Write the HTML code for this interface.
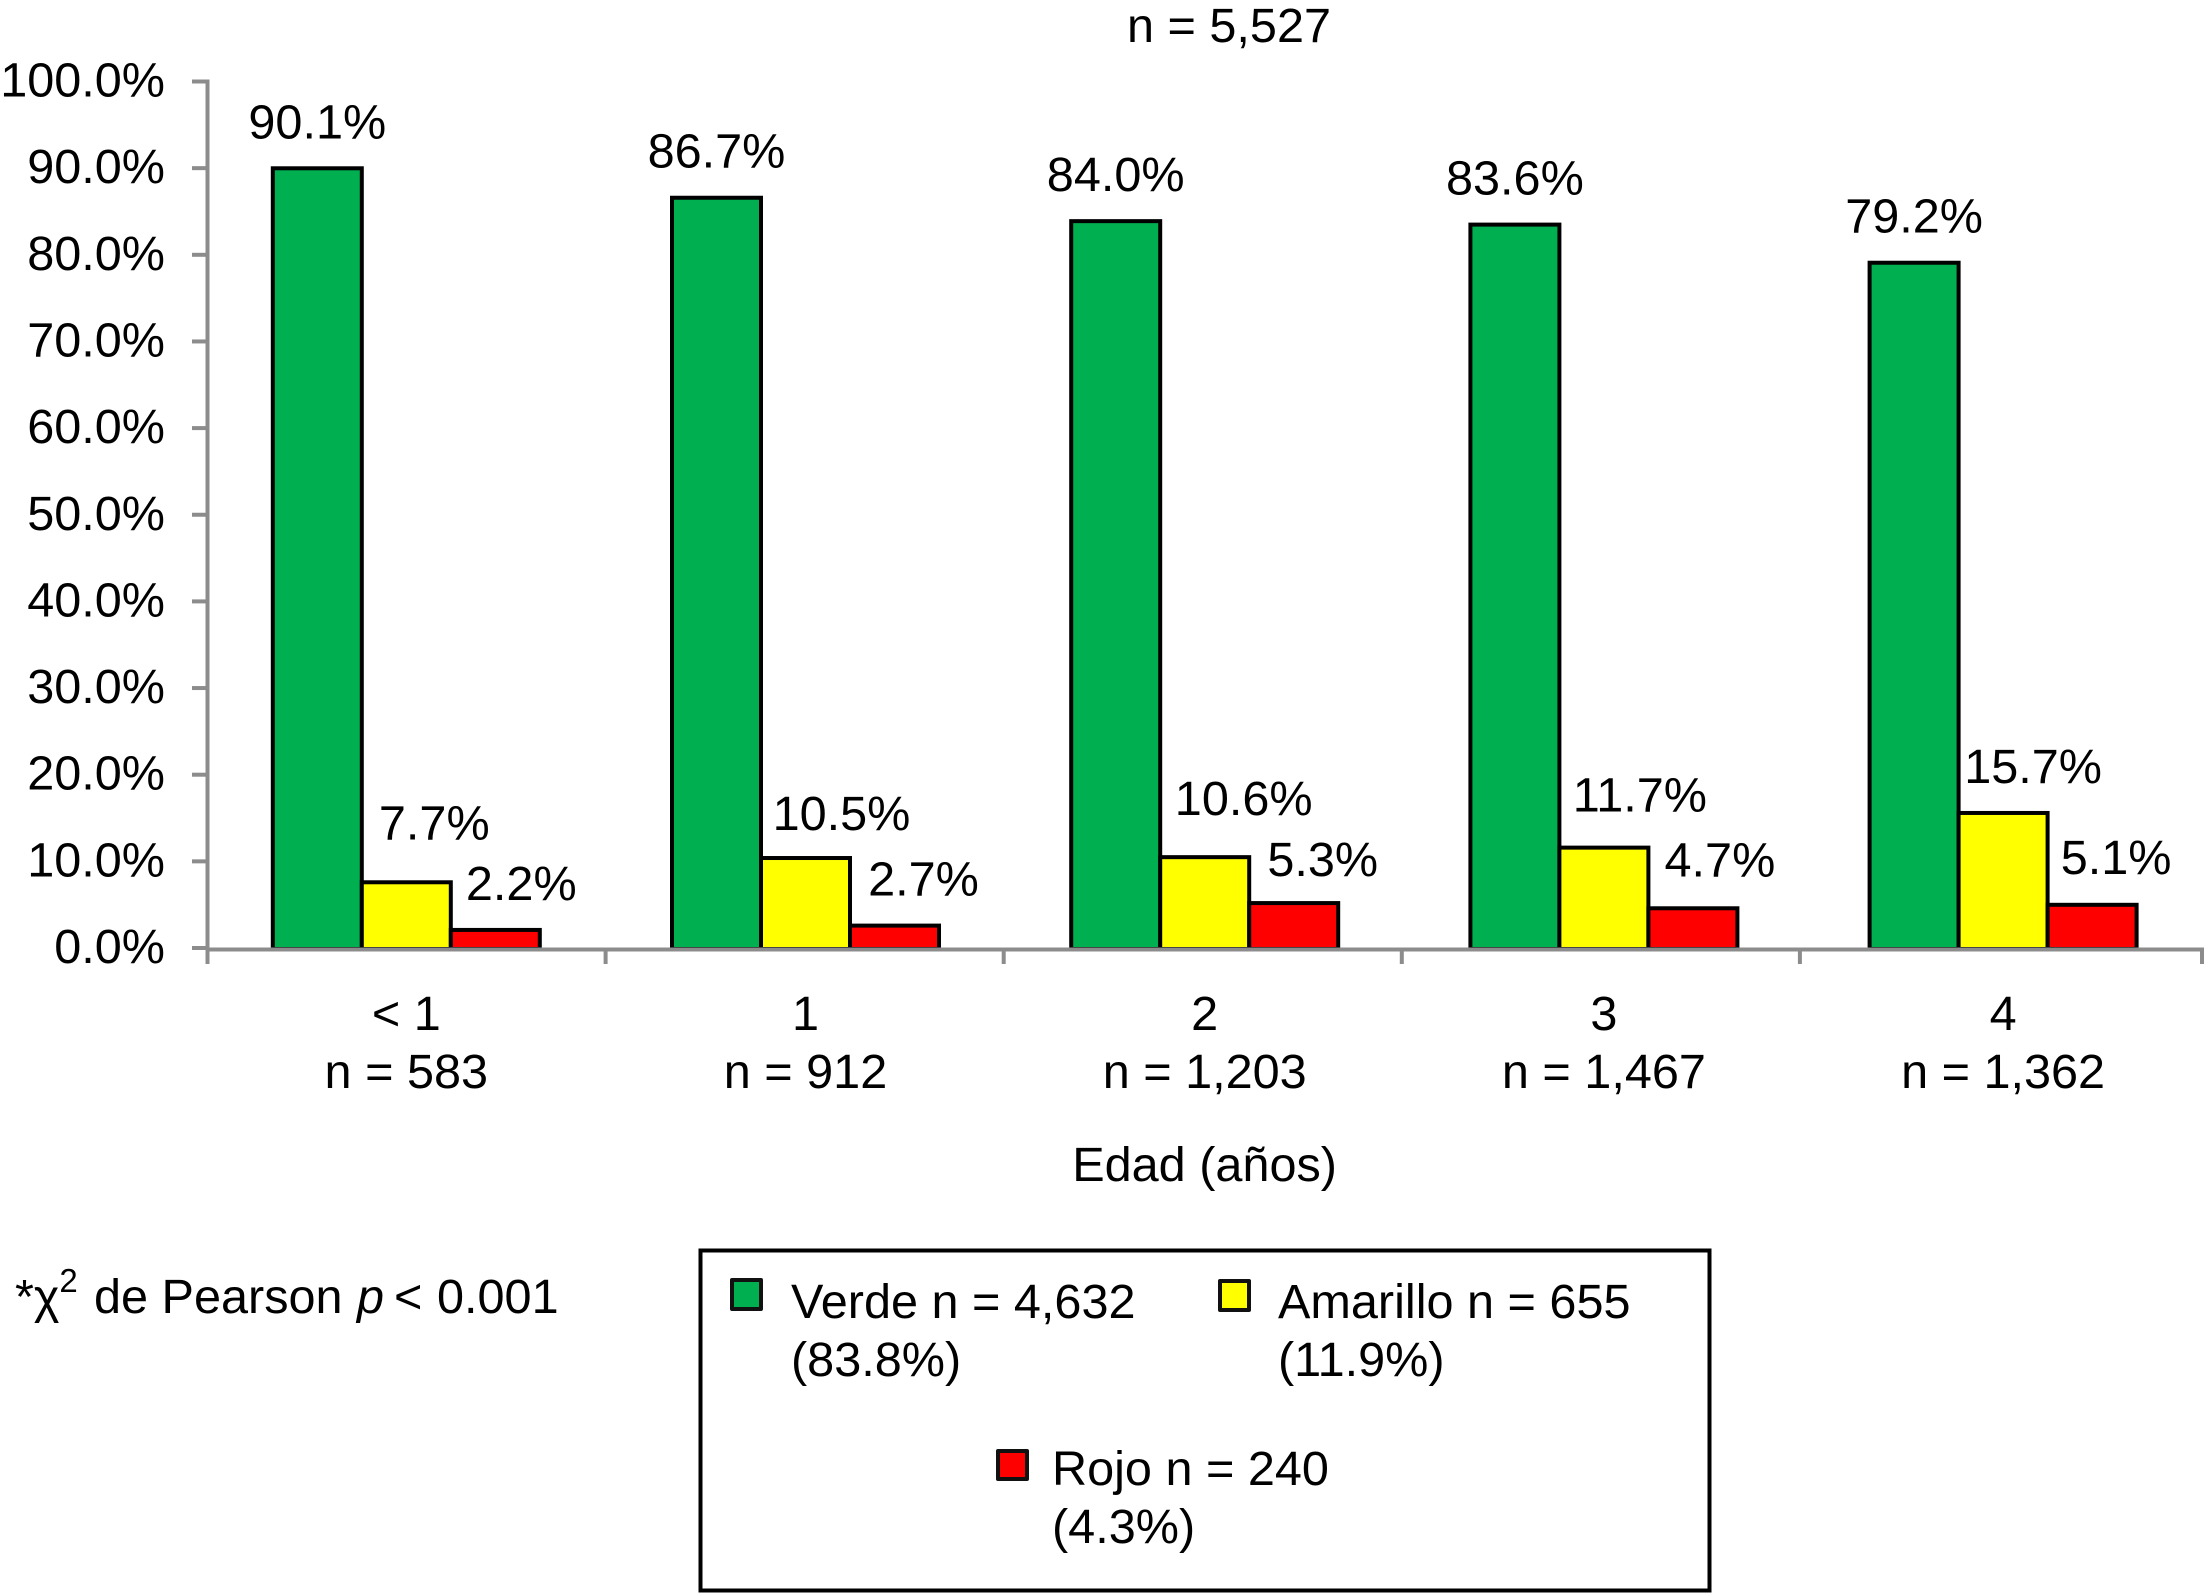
<!DOCTYPE html>
<html lang="es">
<head>
<meta charset="utf-8">
<title>Triage por edad</title>
<style>
html,body{margin:0;padding:0;background:#fff;width:2204px;height:1594px;overflow:hidden}
svg{display:block}
text{font-family:"Liberation Sans",Helvetica,Arial,sans-serif;font-size:48.6px;fill:#000}
</style>
</head>
<body>
<svg id="chart" xmlns="http://www.w3.org/2000/svg" width="2204" height="1594" viewBox="0 0 2204 1594">
  <rect x="0" y="0" width="2204" height="1594" fill="#fff"/>
  <text x="1229" y="42" text-anchor="middle">n = 5,527</text>
  <g id="bars"></g>
  <g id="axes"></g>
  <g id="labels"></g>
  <text x="1204.6" y="1181" text-anchor="middle">Edad (años)</text>
  <text x="15" y="1313">*χ<tspan font-size="33" dy="-21">2</tspan><tspan x="94" dy="21">de Pearson</tspan><tspan x="357" font-style="italic">p</tspan><tspan x="394">&lt;</tspan><tspan x="437">0.001</tspan></text>
  <g>
    <rect x="700.5" y="1250.5" width="1009" height="340" fill="#fff" stroke="#000" stroke-width="4"/>
    <rect x="732" y="1280" width="29" height="29" fill="#00b050" stroke="#111" stroke-width="4" stroke-linejoin="round"/>
    <text x="791" y="1318">Verde n = 4,632</text>
    <text x="791" y="1376">(83.8%)</text>
    <rect x="1220" y="1281" width="29" height="29" fill="#ffff00" stroke="#111" stroke-width="4" stroke-linejoin="round"/>
    <text x="1278" y="1318">Amarillo n = 655</text>
    <text x="1278" y="1376">(11.9%)</text>
    <rect x="998" y="1451" width="29" height="28" fill="#ff0000" stroke="#111" stroke-width="4" stroke-linejoin="round"/>
    <text x="1052" y="1485">Rojo n = 240</text>
    <text x="1052" y="1543">(4.3%)</text>
  </g>
</svg>
<script>
const categories = ["< 1", "1", "2", "3", "4"];
const groupCounts = ["n = 583", "n = 912", "n = 1,203", "n = 1,467", "n = 1,362"];
const verde = [90.1, 86.7, 84.0, 83.6, 79.2];
const amarillo = [7.7, 10.5, 10.6, 11.7, 15.7];
const rojo = [2.2, 2.7, 5.3, 4.7, 5.1];
const yTickValues = [0, 10, 20, 30, 40, 50, 60, 70, 80, 90, 100];

const NS = 'http://www.w3.org/2000/svg';
const barsLayer = document.getElementById('bars');
const axesLayer = document.getElementById('axes');
const labelsLayer = document.getElementById('labels');

const BAR_W = 89;
const PLOT_RIGHT = 2202;
const yScale = v => 949 - 8.665 * v;
const yTickPos = v => yScale(v) - 1;
const groupLeft = i => 272.8 + 399.2 * i;
const barLeft = (i, s) => groupLeft(i) + BAR_W * s;
const xTick = i => 207.5 + 398.1 * i;

const seriesList = [
  {key: 'verde', values: verde, fill: '#00b050'},
  {key: 'amarillo', values: amarillo, fill: '#ffff00'},
  {key: 'rojo', values: rojo, fill: '#ff0000'}
];

/* hand-placed label nudges relative to each bar's top-centre */
const nudgeX = [[0,0,0,0,0],[28,36,39,36,30],[26,29,29,27,24]];
const nudgeY = [[-30,-30,-30,-30,-30],[-43,-28,-42,-36,-30],[-30,-30,-27,-32,-31]];

seriesList.forEach((series, s) => {
  series.values.forEach((v, i) => {
    const r = document.createElementNS(NS, 'rect');
    
    
    r.setAttribute('x', barLeft(i, s));
    r.setAttribute('y', yScale(v));
    r.setAttribute('width', BAR_W);
    r.setAttribute('height', yScale(0) - yScale(v));
    r.setAttribute('fill', series.fill);
    r.setAttribute('stroke', '#000');
    r.setAttribute('stroke-width', '4');
    barsLayer.appendChild(r);

    const t = document.createElementNS(NS, 'text');
    
    
    t.setAttribute('x', barLeft(i, s) + BAR_W / 2 + nudgeX[s][i]);
    t.setAttribute('y', yScale(v) + nudgeY[s][i]);
    t.setAttribute('text-anchor', 'middle');
    t.textContent = v.toFixed(1) + '%';
    labelsLayer.appendChild(t);
  });
});

function axisLine(x1, y1, x2, y2) {
  const l = document.createElementNS(NS, 'line');
  l.setAttribute('x1', x1);
  l.setAttribute('y1', y1);
  l.setAttribute('x2', x2);
  l.setAttribute('y2', y2);
  l.setAttribute('stroke', '#8c8c8c');
  l.setAttribute('stroke-width', '4');
  axesLayer.appendChild(l);
  return l;
}

const yAxisLine = axisLine(207.5, yTickPos(100) - 2, 207.5, 964);



const xAxisLine = axisLine(206, 949.5, 2204, 949.5);



yTickValues.forEach(v => {
  const tick = axisLine(192, yTickPos(v), 208, yTickPos(v));
  
  

  const t = document.createElementNS(NS, 'text');
  
  
  t.setAttribute('x', 165);
  t.setAttribute('y', yTickPos(v) + 15);
  t.setAttribute('text-anchor', 'end');
  t.textContent = v.toFixed(1) + '%';
  axesLayer.appendChild(t);
});

categories.forEach((c, i) => {
  const tickX = i === categories.length - 1 ? PLOT_RIGHT : xTick(i + 1);
  const tick = axisLine(tickX, 949, tickX, 964);
  
  

  const cx = groupLeft(i) + BAR_W * 1.5;
  const t1 = document.createElementNS(NS, 'text');
  
  
  t1.setAttribute('x', cx);
  t1.setAttribute('y', 1030);
  t1.setAttribute('text-anchor', 'middle');
  t1.textContent = c;
  axesLayer.appendChild(t1);

  const t2 = document.createElementNS(NS, 'text');
  
  
  t2.setAttribute('x', cx);
  t2.setAttribute('y', 1088);
  t2.setAttribute('text-anchor', 'middle');
  t2.textContent = groupCounts[i];
  axesLayer.appendChild(t2);
});
</script>
</body>
</html>
